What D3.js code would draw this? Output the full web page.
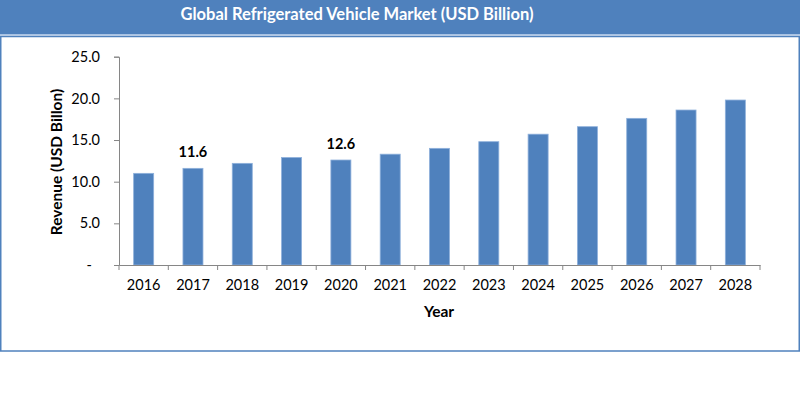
<!DOCTYPE html>
<html>
<head>
<meta charset="utf-8">
<script src="https://cdn.jsdelivr.net/npm/d3@7"></script>
<style>
  body { margin: 0; background: #fff; }
  svg { display: block; font-family: Lato, "Open Sans", sans-serif; }
</style>
</head>
<body>
<svg id="chart" width="800" height="394"></svg>
<script>
// chart data
const years = ["2016","2017","2018","2019","2020","2021","2022","2023","2024","2025","2026","2027","2028"]
const revenue = [11.0, 11.6, 12.2, 12.9, 12.6, 13.3, 14.0, 14.8, 15.7, 16.6, 17.6, 18.6, 19.8]
const labelled = ["2017", "2020"]
const yTicks = [0, 5, 10, 15, 20, 25]

const svg = d3.select("#chart")
const blue = "#4f81bd"

// header band
svg.append("rect").attr("x", 0).attr("y", 0).attr("width", 800).attr("height", 34).attr("fill", blue)
svg.append("rect").attr("x", 0).attr("y", 34).attr("width", 800).attr("height", 1.5).attr("fill", "#a9c3e4")
svg.append("text")
    .attr("x", 357).attr("y", 19.5)
    .attr("text-anchor", "middle")
    .style("font-size", "16.5px").style("font-weight", "bold")
    .attr("fill", "#fff")
    .text("Global Refrigerated Vehicle Market (USD Billion)")

// frame
svg.append("rect")
    .attr("x", 0.75).attr("y", 36.5).attr("width", 798.5).attr("height", 314.5)
    .attr("fill", "none").attr("stroke", blue).attr("stroke-width", 1.5)

const x = d3.scaleBand().domain(years).range([119, 760]).paddingInner(0.594).paddingOuter(0.297)
const y = d3.scaleLinear().domain([0, 25]).range([265, 56.7])

// bars
svg.selectAll(".bar")
    .data(years)
    .enter()
    .append("rect")
    .attr("class", "bar")
    .attr("x", d => x(d))
    .attr("width", x.bandwidth())
    .attr("y", (d, i) => y(revenue[i]))
    .attr("height", (d, i) => y(0) - y(revenue[i]))
    .attr("fill", blue)
    .attr("stroke", "#8eb0db").attr("stroke-width", 0.8)

// value labels
svg.selectAll(".val")
    .data(years.filter(d => labelled.includes(d)))
    .enter()
    .append("text")
    .attr("x", d => x(d) + x.bandwidth() / 2)
    .attr("y", d => y(revenue[years.indexOf(d)]) - 11)
    .attr("text-anchor", "middle")
    .style("font-size", "14.5px").style("font-weight", "bold")
    .text(d => revenue[years.indexOf(d)].toFixed(1))

// y axis
const yAxis = svg.append("g")
    .attr("transform", "translate(119,0)")
    .call(d3.axisLeft(y).tickValues(yTicks).tickSize(5).tickPadding(14)
        .tickFormat(d => d === 0 ? "-" : d3.format(".1f")(d)))
yAxis.selectAll("path, line").attr("stroke", "#868686")
yAxis.selectAll("text").style("font-size", "14.5px").style("font-family", "Lato, sans-serif").attr("fill", "#000")
yAxis.selectAll("text").filter(d => d === 0).attr("dx", -8)

// x axis
const step = x.step()
const xAxis = svg.append("g")
    .attr("transform", "translate(0,265)")
    .call(d3.axisBottom(x).tickSize(0).tickPadding(15))
xAxis.select(".domain").attr("stroke", "#868686")
xAxis.selectAll("text").style("font-size", "14.5px").style("font-family", "Lato, sans-serif").attr("fill", "#000")
xAxis.selectAll(".sep")
    .data(d3.range(years.length + 1))
    .enter()
    .append("line")
    .attr("x1", i => 119 + i * step).attr("x2", i => 119 + i * step)
    .attr("y1", 0).attr("y2", 5)
    .attr("stroke", "#868686")

// axis titles
svg.append("text")
    .attr("x", 439).attr("y", 317)
    .attr("text-anchor", "middle")
    .style("font-size", "15.5px").style("font-weight", "bold")
    .text("Year")

svg.append("text")
    .attr("transform", "translate(62,162) rotate(-90)")
    .attr("text-anchor", "middle")
    .style("font-size", "15.5px").style("font-weight", "bold")
    .text("Revenue (USD Billon)")
</script>
</body>
</html>
